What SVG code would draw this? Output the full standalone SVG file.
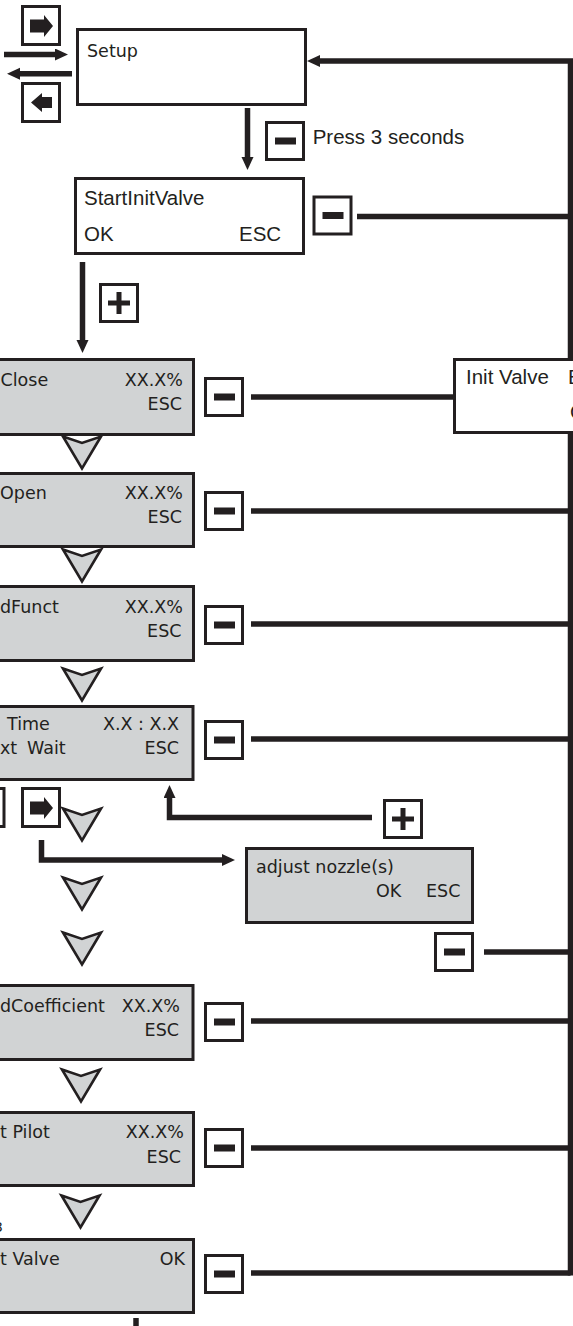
<svg xmlns="http://www.w3.org/2000/svg" xmlns:xlink="http://www.w3.org/1999/xlink" width="573" height="1326" viewBox="0 0 573 1326">
<style>
.box{fill:#ffffff;stroke:#231f20;stroke-width:3}
.gbox{fill:#d1d3d4;stroke:#231f20;stroke-width:3}
.btn{fill:#ffffff;stroke:#231f20;stroke-width:3}
.ink{fill:#231f20}
.tri{fill:#d1d3d4;stroke:#231f20;stroke-width:2.6;stroke-linejoin:miter}
.ln{fill:none;stroke:#231f20;stroke-width:5.5;stroke-linejoin:miter}
.t{font-family:"DejaVu Sans","Noto Sans",sans-serif;font-size:17.5px;fill:#231f20}
.a{font-family:"Liberation Sans",Arial,sans-serif;font-size:20.5px;fill:#231f20}
.e{text-anchor:end}
</style>
<defs>
<marker id="ah" markerUnits="userSpaceOnUse" markerWidth="14" markerHeight="13" refX="0" refY="6" orient="auto">
<path d="M0,0 L13,6 L0,12 Z" fill="#231f20"/>
</marker>
<g id="bMinus"><rect class="btn" x="1.5" y="1.5" width="37" height="37"/><rect class="ink" x="10" y="16.5" width="21" height="7"/></g>
<g id="bPlus"><rect class="btn" x="1.5" y="1.5" width="37" height="37"/><path d="M9,20 H31 M20,9 V31" stroke="#231f20" stroke-width="5"/></g>
<g id="bRight"><rect class="btn" x="1.5" y="1.5" width="37" height="38"/><polygon class="ink" points="9,14.5 23,14.5 23,10 32,21 23,32 23,27.5 9,27.5"/></g>
<g id="bLeft"><rect class="btn" x="1.5" y="1.5" width="37" height="38"/><polygon class="ink" points="31,15 21,15 21,11 10,20.5 21,30 21,26 31,26"/></g>
<path id="tri" d="M-19,1.5 L0,8 L19,1.5 L0,33.5 Z"/>
</defs>

<g id="connectors">
<path class="ln" d="M4,54.5 H55" marker-end="url(#ah)"/>
<path class="ln" d="M72,73.7 H20" marker-end="url(#ah)"/>
<path class="ln" d="M247.5,108 V157" marker-end="url(#ah)"/>
<path class="ln" d="M82.5,262 V340" marker-end="url(#ah)"/>
<path class="ln" d="M570.5,1275.5 V61 H320" marker-end="url(#ah)"/>
<path class="ln" d="M357,216.5 H570.5"/>
<path class="ln" d="M251,397 H455"/>
<path class="ln" d="M251,511 H570.5"/>
<path class="ln" d="M251,624 H570.5"/>
<path class="ln" d="M251,739 H570.5"/>
<path class="ln" d="M484,952 H570.5"/>
<path class="ln" d="M251,1021 H570.5"/>
<path class="ln" d="M251,1148 H570.5"/>
<path class="ln" d="M251,1273 H570.5"/>
<path class="ln" d="M372,817.5 H169.5 V798" marker-end="url(#ah)"/>
<path class="ln" d="M41.5,840 V860 H222" marker-end="url(#ah)"/>
<path class="ln" d="M136,1318 V1326"/>
</g>

<g id="btn-right-top"><use xlink:href="#bRight" x="21" y="5"/></g>
<g id="btn-left-top"><use xlink:href="#bLeft" x="21" y="82"/></g>

<g id="setup">
<rect class="box" x="77.5" y="29.5" width="228" height="75"/>
<text class="t" x="87" y="57">Setup</text>
</g>

<g id="press-minus">
<use xlink:href="#bMinus" x="265" y="121"/>
<text class="a" x="312.7" y="144">Press 3 seconds</text>
</g>

<g id="startinit">
<rect class="box" x="75.5" y="178.5" width="228" height="75"/>
<text class="a" x="84" y="205">StartInitValve</text>
<text class="a" x="84" y="241">OK</text>
<text class="a" x="239" y="241">ESC</text>
</g>
<g id="startinit-minus"><use xlink:href="#bMinus" x="312.5" y="195.5"/></g>
<g id="startinit-plus"><use xlink:href="#bPlus" x="99" y="283"/></g>

<g id="initvalve">
<rect class="box" x="454.5" y="359.5" width="200" height="73"/>
<text class="a" x="466" y="384">Init Valve</text>
<text class="a" x="568" y="384">E</text>
<text class="a" x="570" y="419">O</text>
</g>

<g id="close">
<rect class="gbox" x="-20" y="359.5" width="213.5" height="75"/>
<text class="t" x="0.5" y="386">Close</text>
<text class="t e" x="183" y="386">XX.X%</text>
<text class="t e" x="182" y="410">ESC</text>
</g>
<g id="close-minus"><use xlink:href="#bMinus" x="204" y="377"/></g>

<g id="open">
<rect class="gbox" x="-20" y="473.5" width="213.5" height="73"/>
<text class="t" x="0" y="499">Open</text>
<text class="t e" x="183" y="499">XX.X%</text>
<text class="t e" x="182" y="523">ESC</text>
</g>
<g id="open-minus"><use xlink:href="#bMinus" x="204" y="491"/></g>

<g id="funct">
<rect class="gbox" x="-20" y="586.5" width="213.5" height="74"/>
<text class="t" x="0" y="613">dFunct</text>
<text class="t e" x="183" y="613">XX.X%</text>
<text class="t e" x="181.5" y="637">ESC</text>
</g>
<g id="funct-minus"><use xlink:href="#bMinus" x="204" y="605"/></g>

<g id="time">
<rect class="gbox" x="-20" y="706.5" width="213" height="73"/>
<text class="t" x="7" y="730">Time</text>
<text class="t" x="0" y="754">xt<tspan x="27">Wait</tspan></text>
<text class="t e" x="179" y="730">X.X : X.X</text>
<text class="t e" x="179" y="754">ESC</text>
</g>
<g id="time-minus"><use xlink:href="#bMinus" x="204" y="720"/></g>
<g id="time-plus"><use xlink:href="#bPlus" x="383" y="799"/></g>
<g id="btn-right-2"><use xlink:href="#bRight" x="21" y="787"/></g>
<g id="btn-partial"><rect class="btn" x="-35" y="788.5" width="39" height="38"/></g>

<g id="adjust">
<rect class="gbox" x="246.5" y="848.5" width="226" height="74"/>
<text class="t" x="256" y="873">adjust nozzle(s)</text>
<text class="t" x="376" y="897">OK</text>
<text class="t" x="426" y="897">ESC</text>
</g>
<g id="adjust-minus"><use xlink:href="#bMinus" x="434" y="932"/></g>

<g id="coeff">
<rect class="gbox" x="-20" y="985.5" width="213" height="74"/>
<text class="t" x="0" y="1012">dCoefficient</text>
<text class="t e" x="180" y="1012">XX.X%</text>
<text class="t e" x="179" y="1036">ESC</text>
</g>
<g id="coeff-minus"><use xlink:href="#bMinus" x="204" y="1002"/></g>

<g id="pilot">
<rect class="gbox" x="-20" y="1112.5" width="213.5" height="73"/>
<text class="t" x="0" y="1138">t Pilot</text>
<text class="t e" x="184" y="1138">XX.X%</text>
<text class="t e" x="181" y="1163">ESC</text>
</g>
<g id="pilot-minus"><use xlink:href="#bMinus" x="204" y="1128"/></g>

<g id="valve">
<text class="t" x="-6" y="1232" style="font-size:14px">3</text>
<rect class="gbox" x="-20" y="1239.5" width="213.5" height="73"/>
<text class="t" x="0" y="1265">t Valve</text>
<text class="t e" x="185" y="1265">OK</text>
</g>
<g id="valve-minus"><use xlink:href="#bMinus" x="204" y="1254"/></g>

<g id="steps">
<use class="tri" xlink:href="#tri" transform="translate(82,435)"/>
<use class="tri" xlink:href="#tri" transform="translate(82,548)"/>
<use class="tri" xlink:href="#tri" transform="translate(82,667)"/>
<use class="tri" xlink:href="#tri" transform="translate(82,807)"/>
<use class="tri" xlink:href="#tri" transform="translate(82,876)"/>
<use class="tri" xlink:href="#tri" transform="translate(82,931)"/>
<use class="tri" xlink:href="#tri" transform="translate(81,1068)"/>
<use class="tri" xlink:href="#tri" transform="translate(80.5,1194)"/>
</g>
</svg>
